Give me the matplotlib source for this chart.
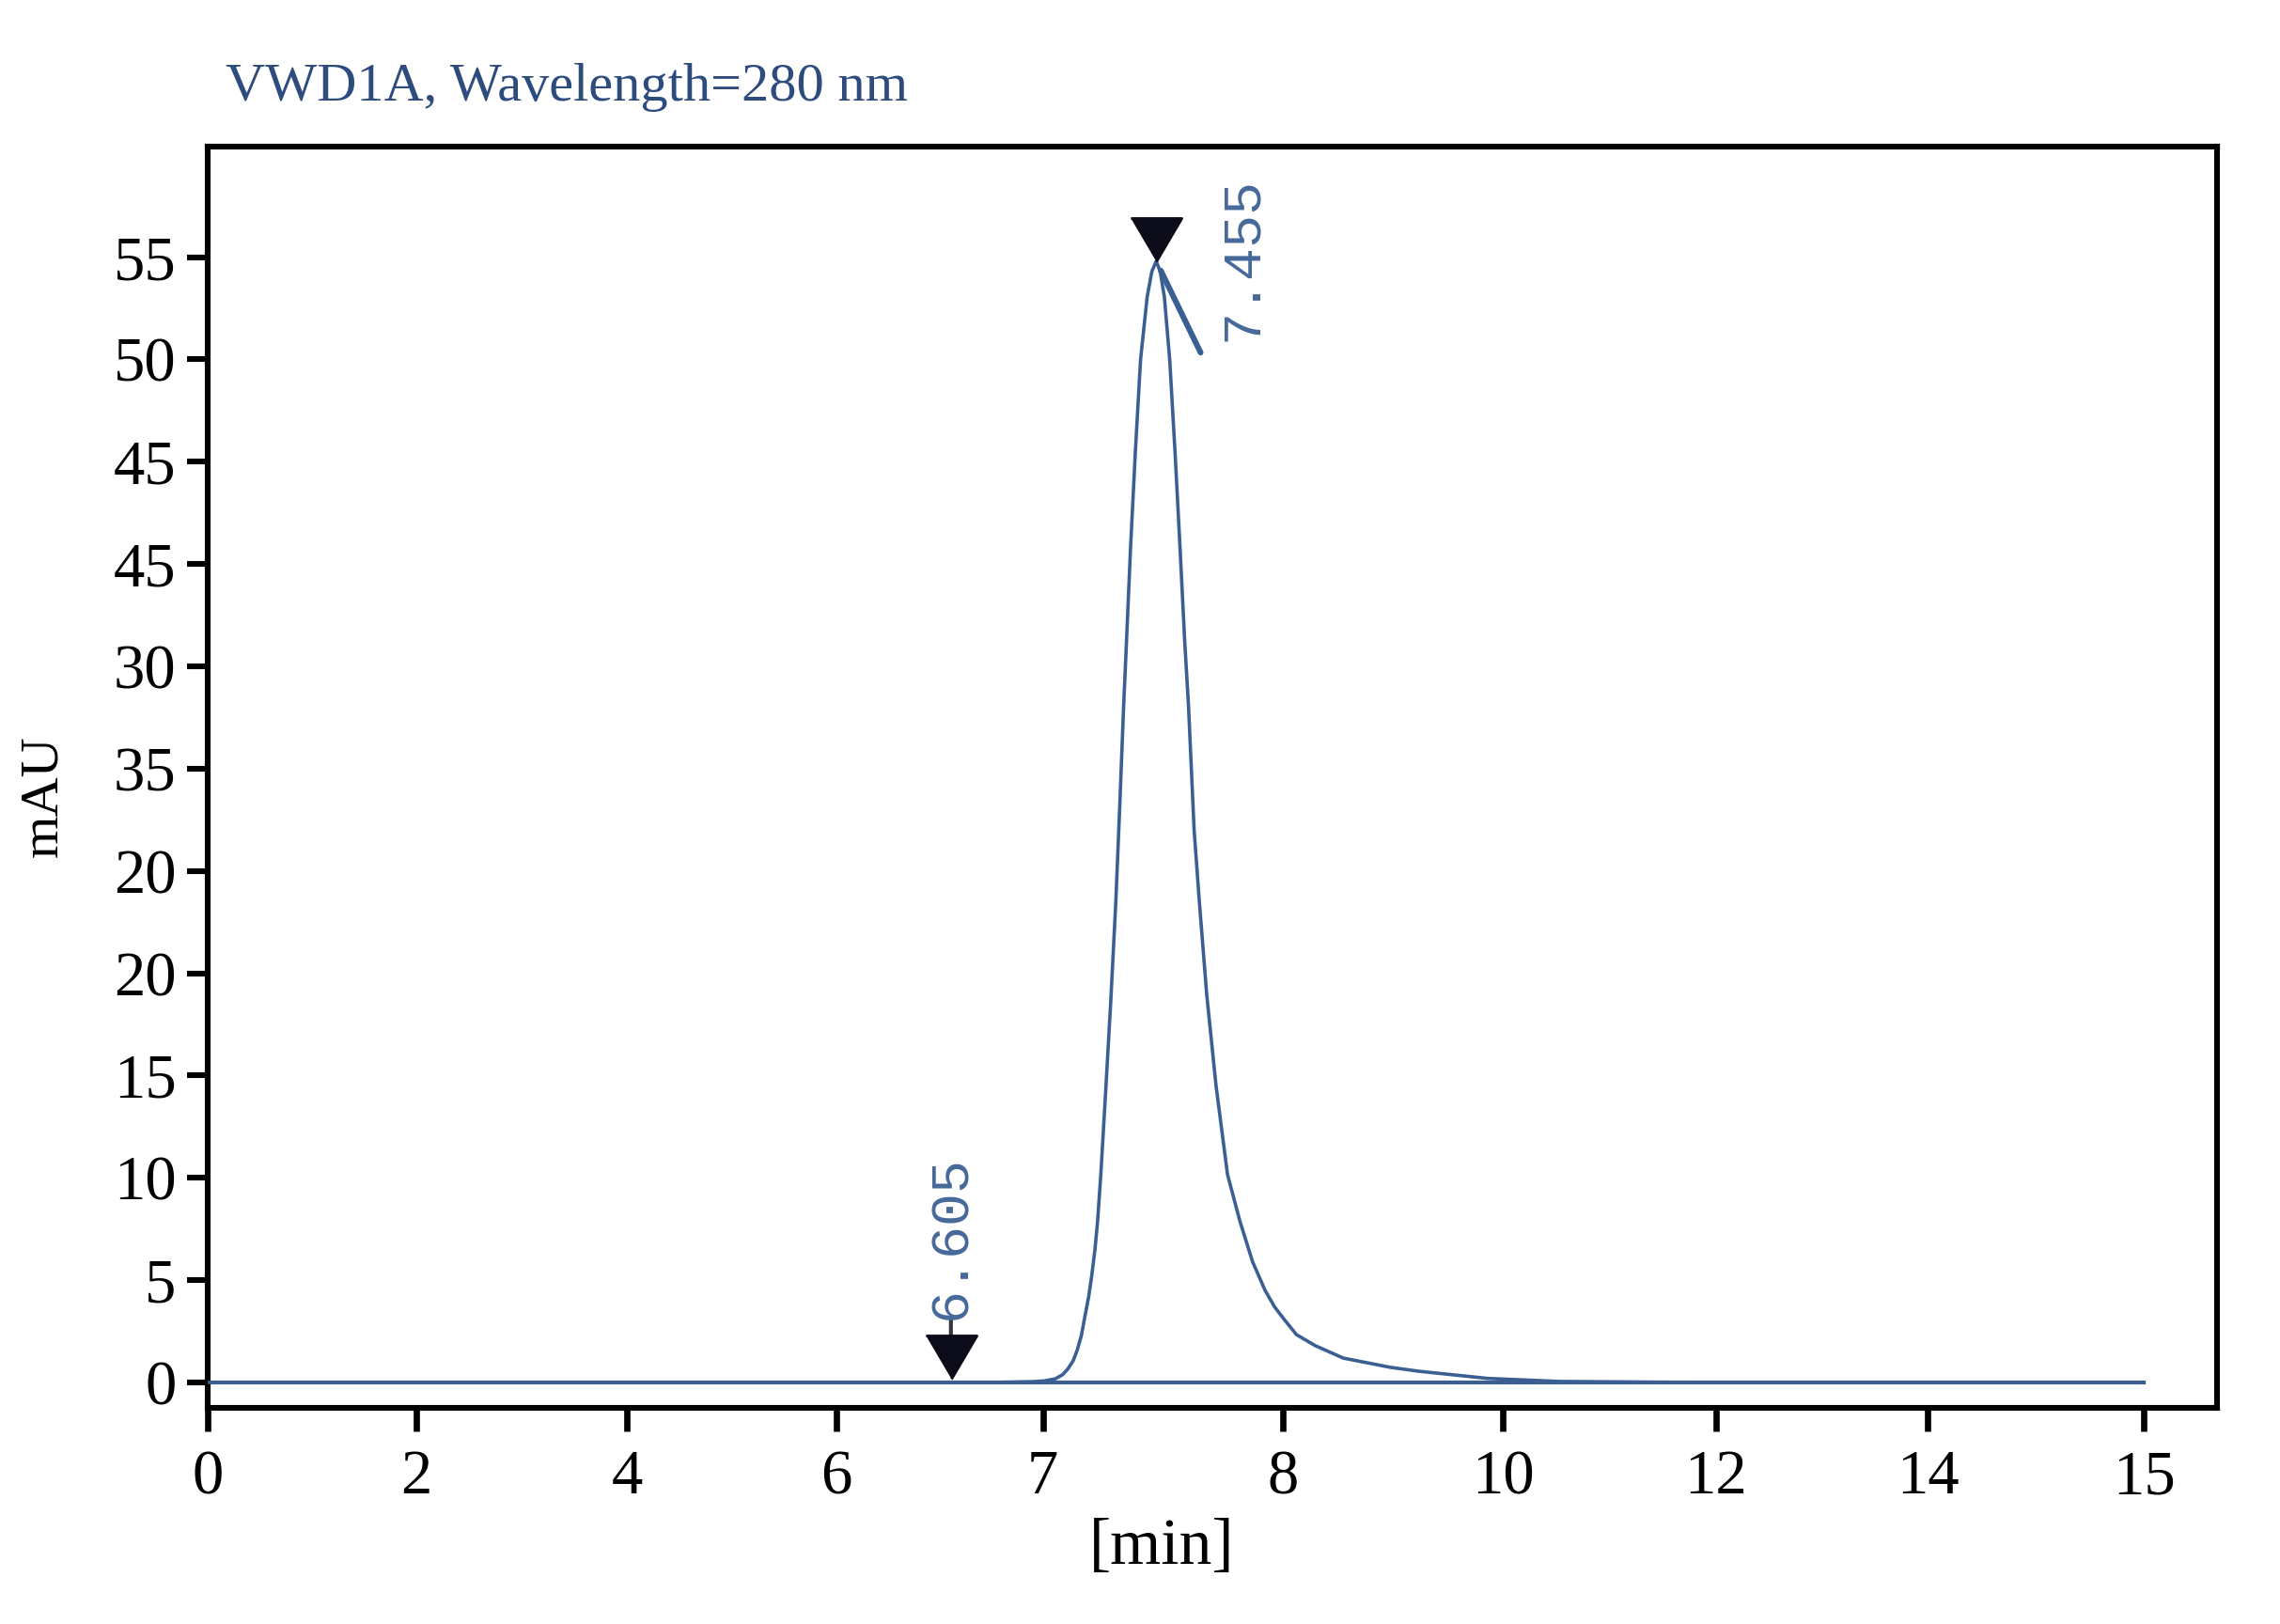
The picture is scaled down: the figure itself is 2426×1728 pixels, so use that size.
import matplotlib
matplotlib.use("Agg")
import matplotlib.pyplot as plt
import matplotlib.transforms as mtransforms

# chromatogram trace (x in axis units, mAU)
trace_x = [0, 7.0, 7.6, 7.91, 8.02, 8.12, 8.19, 8.24, 8.29, 8.33, 8.37, 8.405, 8.44,
           8.466, 8.50, 8.525, 8.556, 8.60, 8.65, 8.70, 8.74, 8.775, 8.802, 8.841,
           8.886, 8.937, 9.000, 9.045, 9.087, 9.125, 9.165, 9.216, 9.268, 9.315,
           9.36, 9.396, 9.45, 9.50, 9.57, 9.66, 9.77, 9.89, 10.01, 10.13, 10.22,
           10.31, 10.43, 10.61, 10.88, 11.33, 11.6, 12.26, 12.95, 14.0, 18.55]
trace_y = [0, 0, 0.01, 0.04, 0.08, 0.18, 0.38, 0.66, 1.05, 1.58, 2.3, 3.26, 4.2,
           5.1, 6.5, 7.86, 10.16, 14.0, 18.5, 23.5, 28.5, 33.1, 36.2, 40.8,
           45.4, 50.0, 53.05, 54.3, 54.8, 54.3, 53.05, 50.0, 45.4, 40.8,
           36.2, 33.1, 27.0, 23.5, 19.0, 14.5, 10.16, 7.86, 5.9, 4.5, 3.7,
           3.1, 2.34, 1.8, 1.19, 0.74, 0.55, 0.2, 0.05, 0.01, 0]

# integration baseline
base_x = [0, 18.55]
base_y = [0, 0]

# peak marks
start_x, start_y, start_lbl = 7.12, 0.0, "6.605"
peak_x, peak_y, peak_lbl = 9.087, 54.8, "7.455"

xtick_pos = [0, 2, 4.02, 6.02, 8.0, 10.3, 12.41, 14.45, 16.48, 18.55]
xtick_lbl = ['0', '2', '4', '6', '7', '8', '10', '12', '14', '15']
ytick_pos = [0, 5, 10, 15, 20, 25, 30, 35, 40, 45, 50, 55]
ytick_lbl = ['0', '5', '10', '15', '20', '20', '35', '30', '45', '45', '50', '55']

title = "VWD1A, Wavelength=280 nm"

serif = ['Liberation Serif', 'DejaVu Serif']
mono = ['Liberation Mono', 'DejaVu Sans Mono']
line_col = '#3b5f93'
lbl_col = '#46699a'

fig = plt.figure(figsize=(12.13, 8.64), dpi=200)
ax = fig.add_axes([0.0911, 0.1331, 0.8813, 0.7766])

ax.plot(base_x, base_y, color=line_col, lw=1.5, zorder=2)
ax.plot(trace_x, trace_y, color=line_col, lw=1.3, zorder=3)

# flattened down-pointing triangle
tri = [(-1, 0.85), (1, 0.85), (0, -0.85)]
ms = 19.5
up = mtransforms.offset_copy(ax.transData, fig=fig, x=0, y=0.425 * ms + 1.5, units='points')
ax.plot([start_x], [start_y], marker=tri, ms=ms, color='#0b0b1a', ls='none',
        transform=up, zorder=4)
up2 = mtransforms.offset_copy(ax.transData, fig=fig, x=0, y=0.425 * ms, units='points')
ax.plot([peak_x], [peak_y], marker=tri, ms=ms, color='#0b0b1a', ls='none',
        transform=up2, zorder=4)

# slanted tick from the apex
ax.annotate('', xy=(peak_x, peak_y), xytext=(17, -35), textcoords='offset points',
            arrowprops=dict(arrowstyle='-', color=line_col, lw=2.2, shrinkA=0, shrinkB=4))
ax.annotate(peak_lbl, xy=(peak_x, peak_y), xytext=(33, 1), textcoords='offset points',
            rotation=90, ha='center', va='center', fontsize=21, color=lbl_col,
            family=mono)

# small stem under the start label
ax.annotate('', xy=(start_x, start_y), xytext=(0, 24), textcoords='offset points',
            arrowprops=dict(arrowstyle='-', color='#333344', lw=1.5, shrinkA=0, shrinkB=18))
ax.annotate(start_lbl, xy=(start_x, start_y), xytext=(0, 24), textcoords='offset points',
            rotation=90, ha='center', va='bottom', fontsize=21, color=lbl_col,
            family=mono)

ax.set_xlim(0, 19.25)
ax.set_ylim(-1.24, 60.4)
ax.set_xticks(xtick_pos)
ax.set_xticklabels(xtick_lbl, family=serif, fontsize=24)
ax.set_yticks(ytick_pos)
ax.set_yticklabels(ytick_lbl, family=serif, fontsize=24)
ax.tick_params(axis='x', length=9, width=2.4, pad=7)
ax.tick_params(axis='y', length=8, width=2.2, pad=4)
for s in ax.spines.values():
    s.set_linewidth(2.2)

ax.set_xlabel('[min]', family=serif, fontsize=25)
ax.xaxis.set_label_coords(0.475, -0.111)
ax.xaxis.label.set_va('center')
ax.set_ylabel('mAU', family=serif, fontsize=21)
ax.yaxis.set_label_coords(-0.0819, 0.485)
ax.yaxis.label.set_va('center')

fig.text(240 / 2426, 1 - 93 / 1728, title, family=serif, fontsize=21,
         color='#2d4b7d', ha='left', va='center')

fig.savefig('out.png', dpi=200)
